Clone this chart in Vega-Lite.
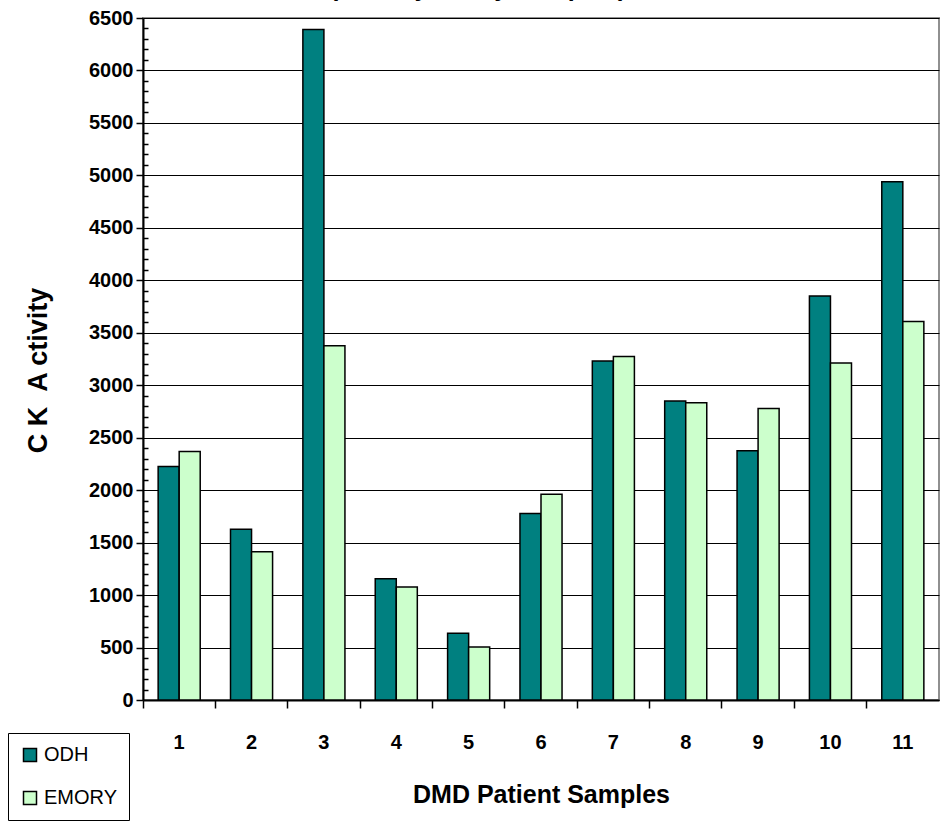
{
  "$schema": "https://vega.github.io/schema/vega-lite/v6.json",
  "width": 796,
  "height": 682,
  "autosize": "none",
  "padding": {"left": 143, "top": 18, "right": 1, "bottom": 125},
  "background": "white",
  "title": {
    "text": "(Activity Assay Samples)",
    "font": "Liberation Sans",
    "fontSize": 25,
    "fontWeight": "bold",
    "color": "black",
    "anchor": "middle",
    "baseline": "alphabetic",
    "offset": 0,
    "dy": 13,
    "dx": -63
  },
  "data": {
    "values": [
      {"sample": 1, "lab": "ODH", "value": 2225},
      {"sample": 1, "lab": "EMORY", "value": 2368},
      {"sample": 2, "lab": "ODH", "value": 1627},
      {"sample": 2, "lab": "EMORY", "value": 1414},
      {"sample": 3, "lab": "ODH", "value": 6391},
      {"sample": 3, "lab": "EMORY", "value": 3376},
      {"sample": 4, "lab": "ODH", "value": 1156},
      {"sample": 4, "lab": "EMORY", "value": 1077},
      {"sample": 5, "lab": "ODH", "value": 637},
      {"sample": 5, "lab": "EMORY", "value": 504},
      {"sample": 6, "lab": "ODH", "value": 1778},
      {"sample": 6, "lab": "EMORY", "value": 1962},
      {"sample": 7, "lab": "ODH", "value": 3232},
      {"sample": 7, "lab": "EMORY", "value": 3273},
      {"sample": 8, "lab": "ODH", "value": 2850},
      {"sample": 8, "lab": "EMORY", "value": 2833},
      {"sample": 9, "lab": "ODH", "value": 2375},
      {"sample": 9, "lab": "EMORY", "value": 2778},
      {"sample": 10, "lab": "ODH", "value": 3850},
      {"sample": 10, "lab": "EMORY", "value": 3212},
      {"sample": 11, "lab": "ODH", "value": 4939},
      {"sample": 11, "lab": "EMORY", "value": 3608}
    ]
  },
  "mark": {"type": "bar", "stroke": "black", "strokeWidth": 1.5},
  "encoding": {
    "x": {
      "field": "sample",
      "type": "ordinal",
      "scale": {"paddingInner": 0, "paddingOuter": 0},
      "axis": {
        "title": "DMD Patient Samples",
        "labelAngle": 0,
        "bandPosition": 0,
        "labelFont": "Liberation Sans",
        "labelFontSize": 20,
        "labelFontWeight": "bold",
        "labelColor": "black",
        "labelPadding": 24,
        "tickSize": 8,
        "tickColor": "black",
        "tickWidth": 1.5,
        "domainColor": "black",
        "domainWidth": 2,
        "grid": false,
        "titleFont": "Liberation Sans",
        "titleFontSize": 25,
        "titleFontWeight": "bold",
        "titleColor": "black",
        "titlePadding": 30
      }
    },
    "xOffset": {
      "field": "lab",
      "sort": ["ODH", "EMORY"],
      "scale": {"paddingInner": 0, "paddingOuter": 0.72}
    },
    "y": {
      "field": "value",
      "type": "quantitative",
      "scale": {"domain": [0, 6500], "nice": false},
      "axis": {
        "title": "C K\u00a0\u00a0A ctivity",
        "values": [0,100,200,300,400,500,600,700,800,900,1000,1100,1200,1300,1400,1500,1600,1700,1800,1900,2000,2100,2200,2300,2400,2500,2600,2700,2800,2900,3000,3100,3200,3300,3400,3500,3600,3700,3800,3900,4000,4100,4200,4300,4400,4500,4600,4700,4800,4900,5000,5100,5200,5300,5400,5500,5600,5700,5800,5900,6000,6100,6200,6300,6400,6500],
        "format": "d",
        "labelExpr": "datum.value % 500 === 0 ? datum.label : ''",
        "labelFont": "Liberation Sans",
        "labelFontSize": 20,
        "labelFontWeight": "bold",
        "labelColor": "black",
        "labelPadding": 3,
        "tickSize": {"condition": {"test": "datum.value % 500 === 0", "value": 7}, "value": -5},
        "tickColor": "black",
        "tickWidth": 1.5,
        "domainColor": "black",
        "domainWidth": 2,
        "grid": true,
        "gridColor": "black",
        "gridWidth": 1,
        "gridOpacity": {"condition": {"test": "datum.value % 500 === 0", "value": 1}, "value": 0},
        "titleFont": "Liberation Sans",
        "titleFontSize": 27,
        "titleFontWeight": "bold",
        "titleColor": "black",
        "titlePadding": 36,
        "titleY": 352
      }
    },
    "color": {
      "field": "lab",
      "type": "nominal",
      "sort": ["ODH", "EMORY"],
      "scale": {"domain": ["ODH", "EMORY"], "range": ["#008080", "#CCFFCC"]},
      "legend": {
        "title": null,
        "orient": "none",
        "legendX": -135,
        "legendY": 715,
        "direction": "vertical",
        "strokeColor": "black",
        "fillColor": "white",
        "padding": 12,
        "symbolType": "square",
        "symbolSize": 169,
        "symbolStrokeColor": "black",
        "symbolStrokeWidth": 1.5,
        "symbolOpacity": 1,
        "labelFont": "Liberation Sans",
        "labelFontSize": 20,
        "labelColor": "black",
        "labelOffset": 4,
        "rowPadding": 23
      }
    }
  },
  "config": {
    "font": "Liberation Sans",
    "view": {"stroke": "#909090", "strokeWidth": 2}
  }
}
